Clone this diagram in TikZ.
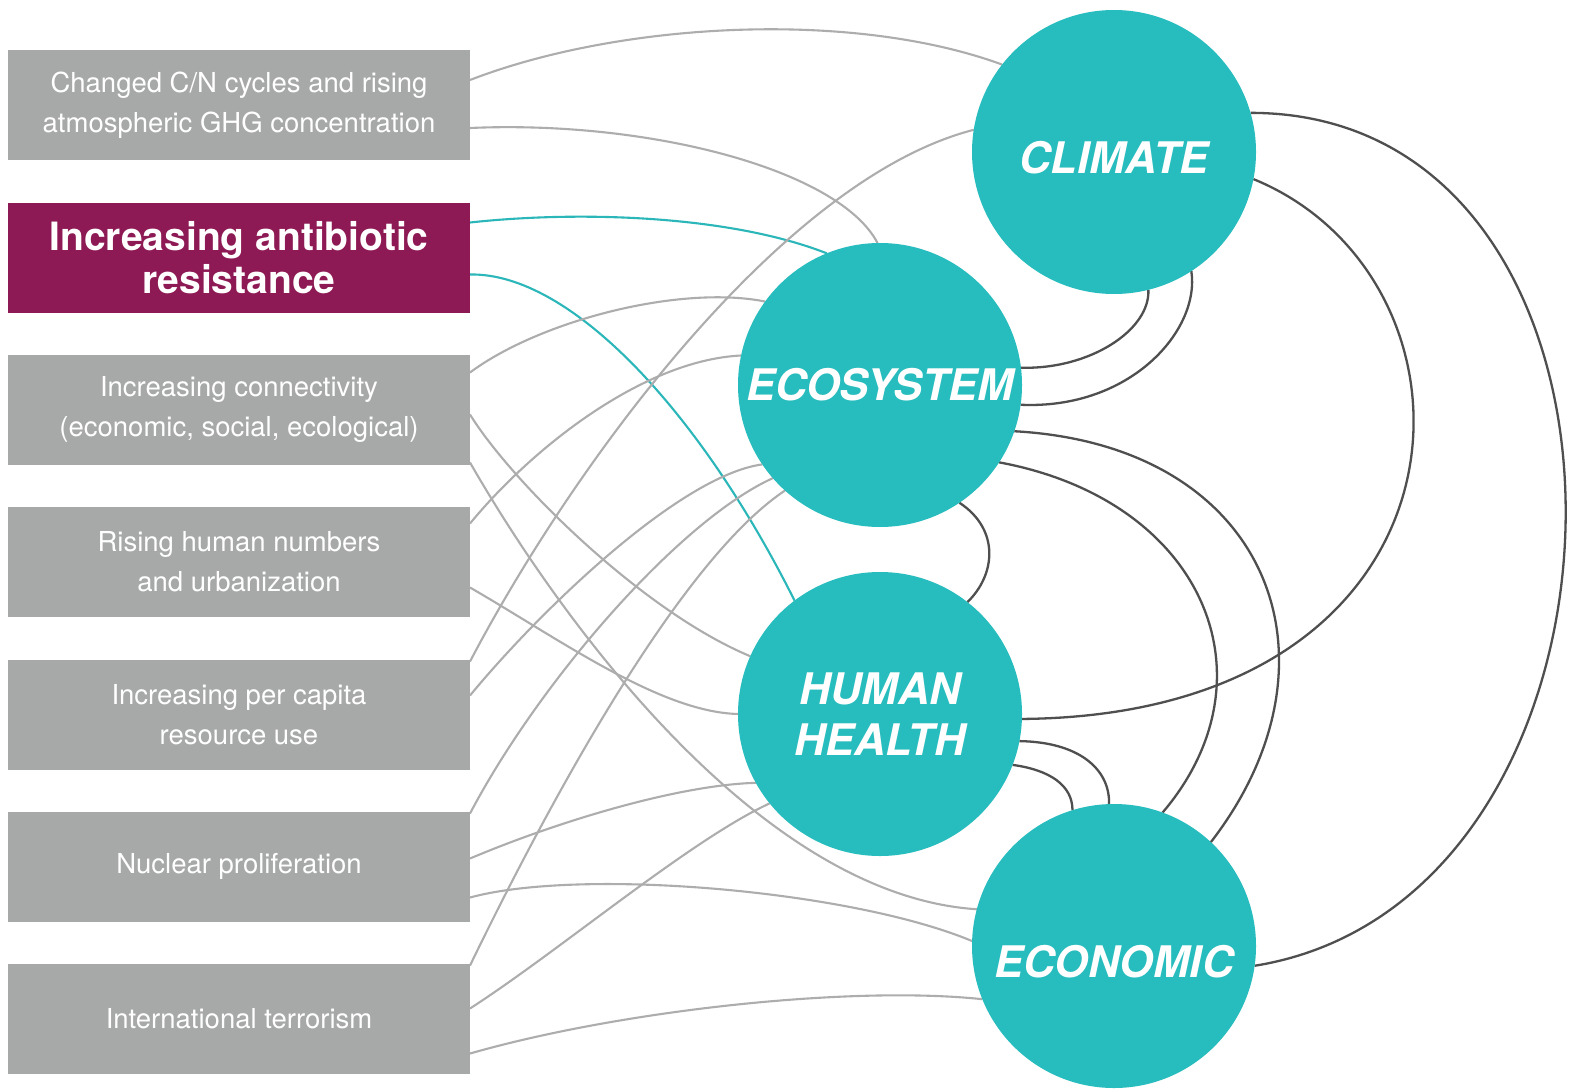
\documentclass[tikz,border=0pt]{standalone}
\usepackage{fontspec}
\setmainfont{TeX Gyre Heros}
\usetikzlibrary{calc,backgrounds}

\definecolor{boxgray}{HTML}{A7A9A8}
\definecolor{plum}{HTML}{8D1A54}
\definecolor{hubteal}{HTML}{27BCBD}
\definecolor{linkgray}{HTML}{ADADAD}
\definecolor{linkdark}{HTML}{4F4F4F}
\definecolor{linkteal}{HTML}{2BB6B9}

\tikzset{
  driver/.style={rectangle, fill=boxgray, minimum width=462pt, minimum height=110pt,
    inner sep=0pt, outer sep=0pt, text=white, align=center,
    font=\fontsize{27.5}{40}\selectfont},
  focus/.style={driver, fill=plum, font=\fontsize{39}{43}\selectfont\bfseries},
  hub/.style={circle, fill=hubteal, minimum size=284pt, inner sep=0pt, outer sep=0pt,
    text=white, align=center, font=\fontsize{43.5}{51}\selectfont\bfseries\itshape},
  glink/.style={draw=linkgray, line width=2.1pt},
  tlink/.style={draw=linkteal, line width=2.1pt},
  dlink/.style={draw=linkdark, line width=2.3pt},
}

\begin{document}
\begin{tikzpicture}[x=1pt,y=-1pt]
\useasboundingbox (0,0) rectangle (1573,1089);

% driver boxes
\node[driver] (b1) at (239,105) {Changed C/N cycles and rising\\atmospheric GHG concentration};
\node[focus]  (b2) at (239,257.5) {Increasing antibiotic\\resistance};
\node[driver] (b3) at (239,409.5) {Increasing connectivity\\(economic, social, ecological)};
\node[driver] (b4) at (239,561.5) {Rising human numbers\\and urbanization};
\node[driver] (b5) at (239,714.5) {Increasing per capita\\resource use};
\node[driver] (b6) at (239,866.5) {Nuclear proliferation};
\node[driver] (b7) at (239,1018.5) {International terrorism};

% hubs
\node[hub] (clim) at (1114,152) {\raisebox{-21pt}[0pt][0pt]{CLIMATE}};
\node[hub] (eco)  at (880,385) {ECOSYSTEM};
\node[hub] (hum)  at (880,714) {HUMAN\\HEALTH};
\node[hub] (econ) at (1114,946) {\raisebox{-31pt}[0pt][0pt]{ECONOMIC}};

\begin{scope}[on background layer]
  \fill[white] (0,0) rectangle (1573,1089);
  % drivers to hubs
  \draw[glink] ($(b1.east)+(0,-25)$) .. controls +(150,-58) and +(-150,-55) .. (clim.142);
  \draw[glink] ($(b1.east)+(0,23)$)  .. controls +(180,-8) and +(-38,-73) .. (eco.91);
  \draw[tlink] ($(b2.east)+(0,-35)$) .. controls +(110,-12) and +(-97,-38) .. (eco.112);
  \draw[tlink] ($(b2.east)+(0,17)$)  .. controls +(100,-2) and +(-95,-190) .. (hum.127);
  \draw[glink] ($(b3.east)+(0,-37)$) .. controls +(70,-52) and +(-85,-17) .. (eco.144);
  \draw[glink] ($(b3.east)+(0,5)$)   .. controls +(40,65) and +(-110,-46) .. (hum.156);
  \draw[glink] ($(b3.east)+(0,53)$)  .. controls +(90,157) and +(-217,-14) .. (econ.165);
  \draw[glink] ($(b4.east)+(0,-38)$) .. controls +(60,-73) and +(-100,5) .. (eco.168);
  \draw[glink] ($(b4.east)+(0,26)$)  .. controls +(90,52) and +(-78,-2) .. (hum.180);
  \draw[glink] ($(b5.east)+(0,-53)$) .. controls +(100,-191) and +(-194,50) .. (clim.171);
  \draw[glink] ($(b5.east)+(0,-19)$) .. controls +(70,-85) and +(-82,11) .. (eco.214);
  \draw[glink] ($(b6.east)+(0,-53)$) .. controls +(70,-133) and +(-93,42) .. (eco.221);
  \draw[glink] ($(b6.east)+(0,-8)$)  .. controls +(90,-38) and +(-76,2) .. (hum.209);
  \draw[glink] ($(b6.east)+(0,31)$)  .. controls +(110,-30) and +(-122,-51) .. (econ.178);
  \draw[glink] ($(b7.east)+(0,-53)$) .. controls +(80,-165) and +(-105,70) .. (eco.228);
  \draw[glink] ($(b7.east)+(0,-10)$) .. controls +(90,-58) and +(-80,37) .. (hum.219);
  \draw[glink] ($(b7.east)+(0,35)$)  .. controls +(150,-43) and +(-132,-14) .. (econ.202);

  % links between hubs
  \draw[dlink] (eco.7)   .. controls +(69,2) and +(2,40) .. (clim.284);
  \draw[dlink] (eco.352) .. controls +(110,5) and +(9,59) .. (clim.303);
  \draw[dlink] (clim.16) .. controls +(425,0) and +(410,-66) .. (econ.352);
  \draw[dlink] (clim.349) .. controls +(247,101) and +(468,-4) .. (hum.358);
  \draw[dlink] (eco.341) .. controls +(256,14) and +(140,-181) .. (econ.47.6);
  \draw[dlink] (eco.327) .. controls +(205,38) and +(115,-135) .. (econ.70);
  \draw[dlink] (eco.304) .. controls +(41,27) and +(28,-27) .. (hum.52);
  \draw[dlink] (hum.349) .. controls +(61,1) and +(1,-34) .. (econ.92);
  \draw[dlink] (hum.339) .. controls +(37,5) and +(0,-25) .. (econ.107);
\end{scope}
\end{tikzpicture}
\end{document}
